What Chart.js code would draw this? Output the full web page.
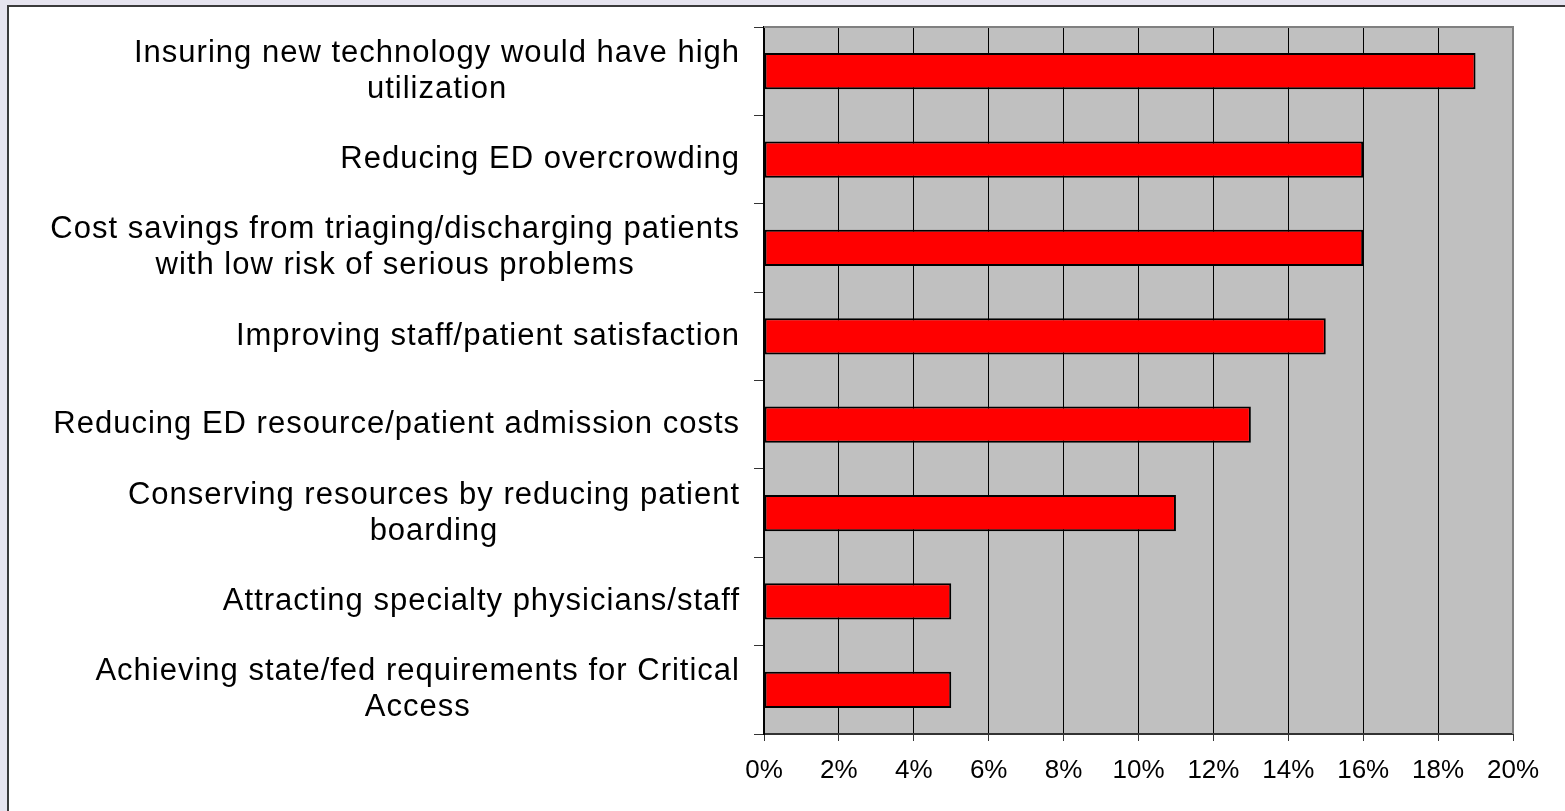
<!DOCTYPE html>
<html>
<head>
<meta charset="utf-8">
<script src="https://cdn.jsdelivr.net/npm/chart.js@4/dist/chart.umd.min.js"></script>
<style>
    html, body { margin: 0; padding: 0; background: #e6e4ef; overflow: hidden; }
    #panel {
        position: absolute; left: 7px; top: 5px; width: 1600px; height: 900px;
        background: #ffffff; border: 2px solid #3a3a3a;
    }
    #wrap { position: absolute; left: 0; top: 0; width: 1565px; height: 811px; }
</style>
</head>
<body>
<div id="panel"></div>
<div id="wrap"><canvas id="reasonsChart" width="1565" height="811"></canvas></div>
<script>
// Categorias (de arriba hacia abajo), cada una en lineas
const categories = [
    ['Insuring new technology would have high', 'utilization'],
    ['Reducing ED overcrowding'],
    ['Cost savings from triaging/discharging patients', 'with low risk of serious problems'],
    ['Improving staff/patient satisfaction'],
    ['Reducing ED resource/patient admission costs'],
    ['Conserving resources by reducing patient', 'boarding'],
    ['Attracting specialty physicians/staff'],
    ['Achieving state/fed requirements for Critical', 'Access']
];
const shares = [19, 16, 16, 15, 13, 11, 5, 5];
const xMin = 0;
const xMax = 20;
const xStep = 2;

const FONT = '"Liberation Sans", Arial, sans-serif';

document.addEventListener('DOMContentLoaded', () => {
    const ctx = document.getElementById('reasonsChart');

    // Fondo gris del area del grafico
    const plotBackground = {
        id: 'plotBackground',
        beforeDraw(chart) {
            const { ctx, chartArea: a } = chart;
            ctx.save();
            ctx.fillStyle = '#c0c0c0';
            ctx.fillRect(a.left, a.top, a.right - a.left, a.bottom - a.top);
            ctx.restore();
        },
        beforeDatasetsDraw(chart) {
            const { ctx, chartArea: a } = chart;
            ctx.save();
            ctx.strokeStyle = '#808080';
            ctx.lineWidth = 2;
            ctx.beginPath();
            ctx.moveTo(a.left, a.top);
            ctx.lineTo(a.right, a.top);
            ctx.lineTo(a.right, a.bottom);
            ctx.stroke();
            ctx.restore();
        }
    };

    // Etiquetas del eje Y: bloque alineado a la derecha, lineas centradas
    const centeredLabels = {
        id: 'centeredLabels',
        afterDraw(chart) {
            const { ctx } = chart;
            const y = chart.scales.y;
            const spacing = 1.0;
            const rightEdge = y.right - 25 + spacing;
            ctx.save();
            ctx.font = '31px ' + FONT;
            ctx.letterSpacing = spacing + 'px';
            ctx.fillStyle = '#000';
            ctx.textAlign = 'center';
            ctx.textBaseline = 'middle';
            categories.forEach((lines, i) => {
                const cy = y.getPixelForValue(i);
                const w = Math.max(...lines.map(l => ctx.measureText(l).width));
                const cx = rightEdge - w / 2;
                lines.forEach((l, j) => {
                    ctx.fillText(l, cx, cy + (j - (lines.length - 1) / 2) * 36);
                });
            });
            ctx.restore();
        }
    };

    new Chart(ctx, {
        type: 'bar',
        data: {
            labels: categories,
            datasets: [{
                data: shares,
                backgroundColor: '#ff0000',
                borderColor: '#000000',
                borderWidth: 2,
                borderSkipped: false,
                categoryPercentage: 1,
                barPercentage: 0.41
            }]
        },
        options: {
            indexAxis: 'y',
            responsive: false,
            animation: false,
            layout: { padding: { top: 27, right: 52, left: 0, bottom: 0 } },
            plugins: {
                legend: { display: false },
                tooltip: { enabled: false }
            },
            scales: {
                x: {
                    min: xMin,
                    max: xMax,
                    afterFit: (scale) => { scale.height = 77; },
                    border: { color: '#333333', width: 2 },
                    grid: {
                        color: (c) => c.index === (xMax - xMin) / xStep ? '#808080' : '#000000',
                        lineWidth: 1,
                        tickLength: 7,
                        tickColor: '#333333'
                    },
                    ticks: {
                        stepSize: xStep,
                        padding: 14,
                        color: '#000',
                        font: { family: FONT, size: 26 },
                        callback: (v) => v + '%'
                    }
                },
                y: {
                    afterFit: (scale) => { scale.width = 764; },
                    border: { color: '#000000', width: 2 },
                    grid: {
                        offset: true,
                        drawOnChartArea: false,
                        tickLength: 10,
                        color: '#333333'
                    },
                    ticks: { display: false }
                }
            }
        },
        plugins: [plotBackground, centeredLabels]
    });
});
</script>
</body>
</html>
